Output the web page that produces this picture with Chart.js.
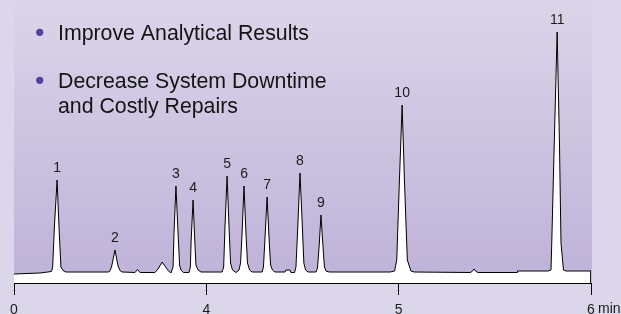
<!DOCTYPE html>
<html>
<head>
<meta charset="utf-8">
<script src="https://cdn.jsdelivr.net/npm/chart.js@4.4.1/dist/chart.umd.min.js"></script>
<style>
  html, body { margin: 0; padding: 0; background: #dbd6e9; }
  #wrap { position: relative; width: 621px; height: 314px; }
</style>
</head>
<body>
<div id="wrap"><canvas id="myChart" width="621" height="314"></canvas></div>
<script>
// Eje x: posiciones de las marcas y sus textos
const tickPositions = [0, 100, 200, 300];
const tickLabels = ["0", "4", "5", "6"];
const unidadEje = "min";

// Textos del recuadro
const bullets = ["Improve Analytical Results", "Decrease System Downtime\nand Costly Repairs"];

// Picos (posición en el eje, altura)
const peakLabels = ["1", "2", "3", "4", "5", "6", "7", "8", "9", "10", "11"];
const peakTimes = [22.4, 52.5, 84.2, 93.1, 110.8, 119.6, 131.6, 148.7, 159.6, 201.8, 282.4];
const peakHeights = [103, 33, 97, 83, 107, 97, 86, 110, 68, 178, 251];

// Cromatograma
const traceX = [
  0, 13.5, 19.5, 20.1, 21.0, 22.4, 23.4, 24.4, 25.5, 27.0,
  48.9, 49.7, 50.7, 52.5, 54.1, 55.1, 56.2,
  62.9, 64.2, 65.5,
  73.3, 74.9, 77.0, 78.5, 80.1, 81.6,
  82.7, 83.2, 84.2, 85.3, 86.1, 86.8, 88.1,
  91.0, 91.7, 92.1, 93.1, 94.0, 94.6, 95.7, 97.2,
  108.2, 109.0, 109.7, 110.8, 111.8, 112.6, 113.6, 115.4,
  117.0, 117.8, 118.6, 119.6, 120.6, 121.4, 122.5, 123.8,
  129.0, 129.7, 130.5, 131.6, 132.6, 133.4, 134.4, 135.7,
  140.9, 141.4, 143.5, 144.0,
  145.9, 146.6, 147.6, 148.7, 149.9, 150.7, 151.6, 152.9,
  157.0, 157.8, 158.7, 159.6, 160.6, 161.4, 162.2, 163.8,
  195.5, 197.9, 199.0, 200.4, 201.8, 203.0, 204.5, 206.4, 208.0,
  237.1, 238.2, 239.2, 240.2, 241.3,
  261.6, 261.8, 277.7,
  279.2, 279.6, 280.9, 282.4, 283.6, 284.4, 285.7, 287.0,
  300, 300
];
const traceY = [
  9, 10, 11.5, 16, 56, 103, 56, 16, 12.5, 11,
  11, 11.5, 16, 33, 17, 12.5, 11,
  10.5, 13.5, 10.5,
  10.5, 14, 21, 17, 12.5, 10,
  16, 50, 97, 50, 18, 13, 10.5,
  10.5, 16, 42, 83, 42, 18, 13, 11,
  11, 16, 56, 107, 56, 20, 13, 10.5,
  13, 20, 50, 97, 50, 20, 13, 11,
  11, 16, 45, 86, 45, 18, 13, 11,
  11, 13, 13, 10.5,
  10.5, 16, 58, 110, 58, 20, 13, 11,
  11, 15, 38, 68, 38, 16, 12, 11,
  11, 12, 23, 103, 178, 103, 23, 12, 11,
  10.5, 11.5, 14, 11.5, 10.5,
  10.5, 12, 12,
  13, 40, 140, 251, 140, 40, 13, 12,
  12, 0
];

const FUENTE = '"Liberation Sans", Arial, Helvetica, sans-serif';

// Fondo degradado del área del gráfico
const fondoPanel = {
  id: "fondoPanel",
  beforeDraw(chart) {
    const { ctx, chartArea } = chart;
    const grad = ctx.createLinearGradient(0, chartArea.top, 0, chartArea.bottom);
    grad.addColorStop(0, "#dbd5e9");
    grad.addColorStop(1, "#beb2d8");
    ctx.save();
    ctx.fillStyle = grad;
    ctx.fillRect(chartArea.left, chartArea.top, chartArea.right - chartArea.left + 1, chartArea.bottom - chartArea.top);
    ctx.restore();
  },
};

// Etiquetas de picos, viñetas y unidad del eje
const textos = {
  id: "textos",
  afterDraw(chart) {
    const { ctx } = chart;
    const x = chart.scales.x;
    const y = chart.scales.y;
    ctx.save();

    ctx.fillStyle = "#1c1c1c";
    ctx.font = "14px " + FUENTE;
    ctx.textAlign = "center";
    ctx.textBaseline = "middle";
    peakLabels.forEach((lab, i) => {
      ctx.fillText(lab, x.getPixelForValue(peakTimes[i]), y.getPixelForValue(peakHeights[i]) - 12);
    });

    // unidad al lado de la última marca
    ctx.textAlign = "left";
    ctx.textBaseline = "alphabetic";
    const ultimo = x.getPixelForValue(tickPositions[tickPositions.length - 1]);
    ctx.fillText(unidadEje, ultimo + 7, 313);

    // viñetas
    ctx.font = "21.3px " + FUENTE;
    let base = 40;
    bullets.forEach((b) => {
      const lineas = b.split("\n");
      ctx.fillStyle = "#5b3d9c";
      ctx.beginPath();
      ctx.arc(39.7, base - 7.7, 3.6, 0, Math.PI * 2);
      ctx.fill();
      ctx.fillStyle = "#141414";
      lineas.forEach((l) => {
        ctx.fillText(l, 58, base);
        base += 25;
      });
      base += 23;
    });

    ctx.restore();
  },
};

const ctx = document.getElementById("myChart");
const myChart = new Chart(ctx, {
  type: "line",
  data: {
    datasets: [
      {
        data: traceX.map((t, i) => ({ x: t, y: traceY[i] })),
        borderColor: "#000",
        borderWidth: 1,
        backgroundColor: "#ffffff",
        fill: "origin",
        pointRadius: 0,
        tension: 0,
      },
    ],
  },
  options: {
    responsive: false,
    animation: false,
    layout: { padding: { left: 14, right: 30, top: 0, bottom: 0 } },
    plugins: { legend: { display: false }, tooltip: { enabled: false } },
    scales: {
      x: {
        type: "linear",
        min: 0,
        max: 300,
        afterBuildTicks: (s) => {
          s.ticks = tickPositions.map((v) => ({ value: v }));
        },
        afterFit: (s) => {
          s.height = 31;
        },
        grid: { drawOnChartArea: false, drawTicks: true, tickLength: 12, color: "#000", lineWidth: 1 },
        border: { display: true, color: "#000", width: 1 },
        ticks: {
          color: "#1c1c1c",
          font: { family: FUENTE, size: 14 },
          padding: 7,
          maxRotation: 0,
          autoSkip: false,
          callback: (v) => tickLabels[tickPositions.indexOf(v)],
        },
      },
      y: { display: false, min: 0, max: 283 },
    },
  },
  plugins: [fondoPanel, textos],
});
</script>
</body>
</html>
